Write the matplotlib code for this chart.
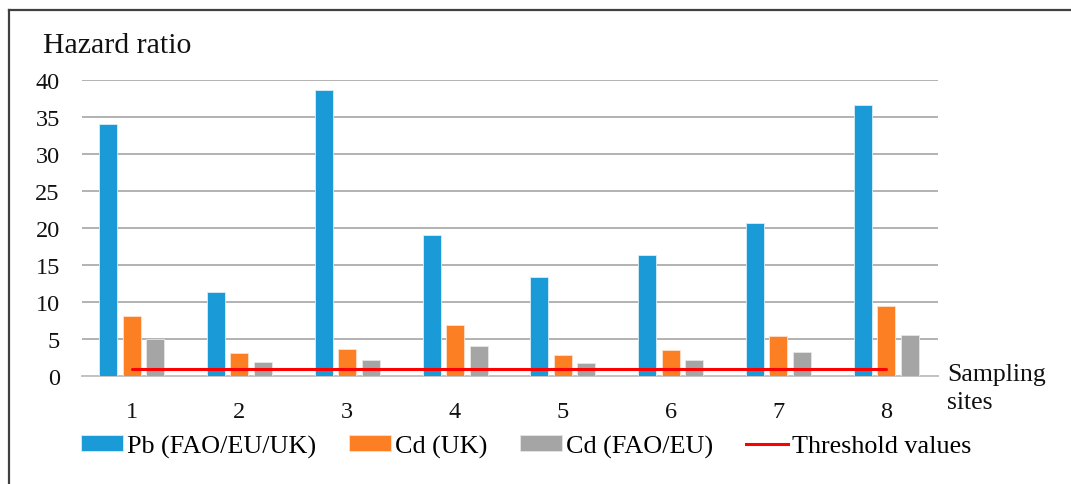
import matplotlib
matplotlib.use("Agg")
import matplotlib.pyplot as plt
from matplotlib.lines import Line2D
import numpy as np

sites = [1, 2, 3, 4, 5, 6, 7, 8]
pb_fao_eu_uk = [34.1, 11.35, 38.7, 19.05, 13.4, 16.4, 20.7, 36.6]
cd_uk = [8.15, 3.1, 3.7, 6.9, 2.85, 3.55, 5.35, 9.4]
cd_fao_eu = [5.0, 1.85, 2.1, 4.1, 1.7, 2.1, 3.25, 5.6]
threshold = 1.0

plt.rcParams["font.family"] = ["Liberation Serif", "DejaVu Serif"]

W, H = 1071, 485
fig = plt.figure(figsize=(W / 100, H / 100), dpi=100)
ax = fig.add_axes([82 / W, 108 / H, 856 / W, 296 / H])

x = np.arange(len(sites)) + 1
bw = 0.167
step = 0.218
ax.bar(x - step, pb_fao_eu_uk, bw, color="#1a9bd7", edgecolor="#d8eef9", linewidth=0.6,
       label="Pb (FAO/EU/UK)", zorder=3)
ax.bar(x, cd_uk, bw, color="#fd7f23", edgecolor="#fde0cc", linewidth=0.6,
       label="Cd (UK)", zorder=3)
ax.bar(x + step, cd_fao_eu, bw, color="#a5a5a5", edgecolor="#e6e6e6", linewidth=0.6,
       label="Cd (FAO/EU)", zorder=3)
ax.plot([x[0], x[-1]], [threshold, threshold], color="#ff0000", lw=2.2, zorder=4,
        solid_capstyle="round")

ax.set_xlim(0.54, 8.48)
ax.set_ylim(0, 40)
ax.set_yticks(np.arange(0, 41, 5))
ax.set_xticks(x)
ax.set_xticklabels([str(s) for s in sites])
ax.yaxis.grid(True, color="#b3b1b1", lw=1.4, zorder=0)
ax.set_axisbelow(True)
for side in ["top", "right", "left"]:
    ax.spines[side].set_visible(False)
ax.spines["bottom"].set_color("#c4c2c2")
ax.spines["bottom"].set_linewidth(1.4)
ax.tick_params(axis="both", length=0, labelsize=17.5, colors="#111111")
ax.tick_params(axis="x", pad=18)
ax.tick_params(axis="y", pad=16)

fig.text(43 / W, 1 - 53 / H, "Hazard ratio", fontsize=21.5, color="#111111",
         ha="left", va="baseline")
# baseline anchor refers to the second line
fig.text(947 / W, 1 - 409 / H, "Sampling\nsites", fontsize=18.5, color="#111111",
         ha="left", va="baseline", linespacing=1.38)

handles, labels = ax.get_legend_handles_labels()
handles.append(Line2D([], [], color="#ff0000", lw=2.2))
labels.append("Threshold values")
fig.legend(handles, labels, loc="center left", bbox_to_anchor=(81 / W, 1 - 447 / H),
           ncol=4, frameon=False, fontsize=18.8, handlelength=1.6, handleheight=0.55,
           handletextpad=0.15, columnspacing=1.27, borderpad=0, borderaxespad=0)

# frame lines along the top and left edges
fig.add_artist(Line2D([9 / W, 1], [1 - 11 / H, 1 - 11 / H], color="#404040", lw=1.6,
                      transform=fig.transFigure))
fig.add_artist(Line2D([9 / W, 9 / W], [0, 1 - 11 / H], color="#404040", lw=1.6,
                      transform=fig.transFigure))

fig.savefig("out.png", dpi=100)
